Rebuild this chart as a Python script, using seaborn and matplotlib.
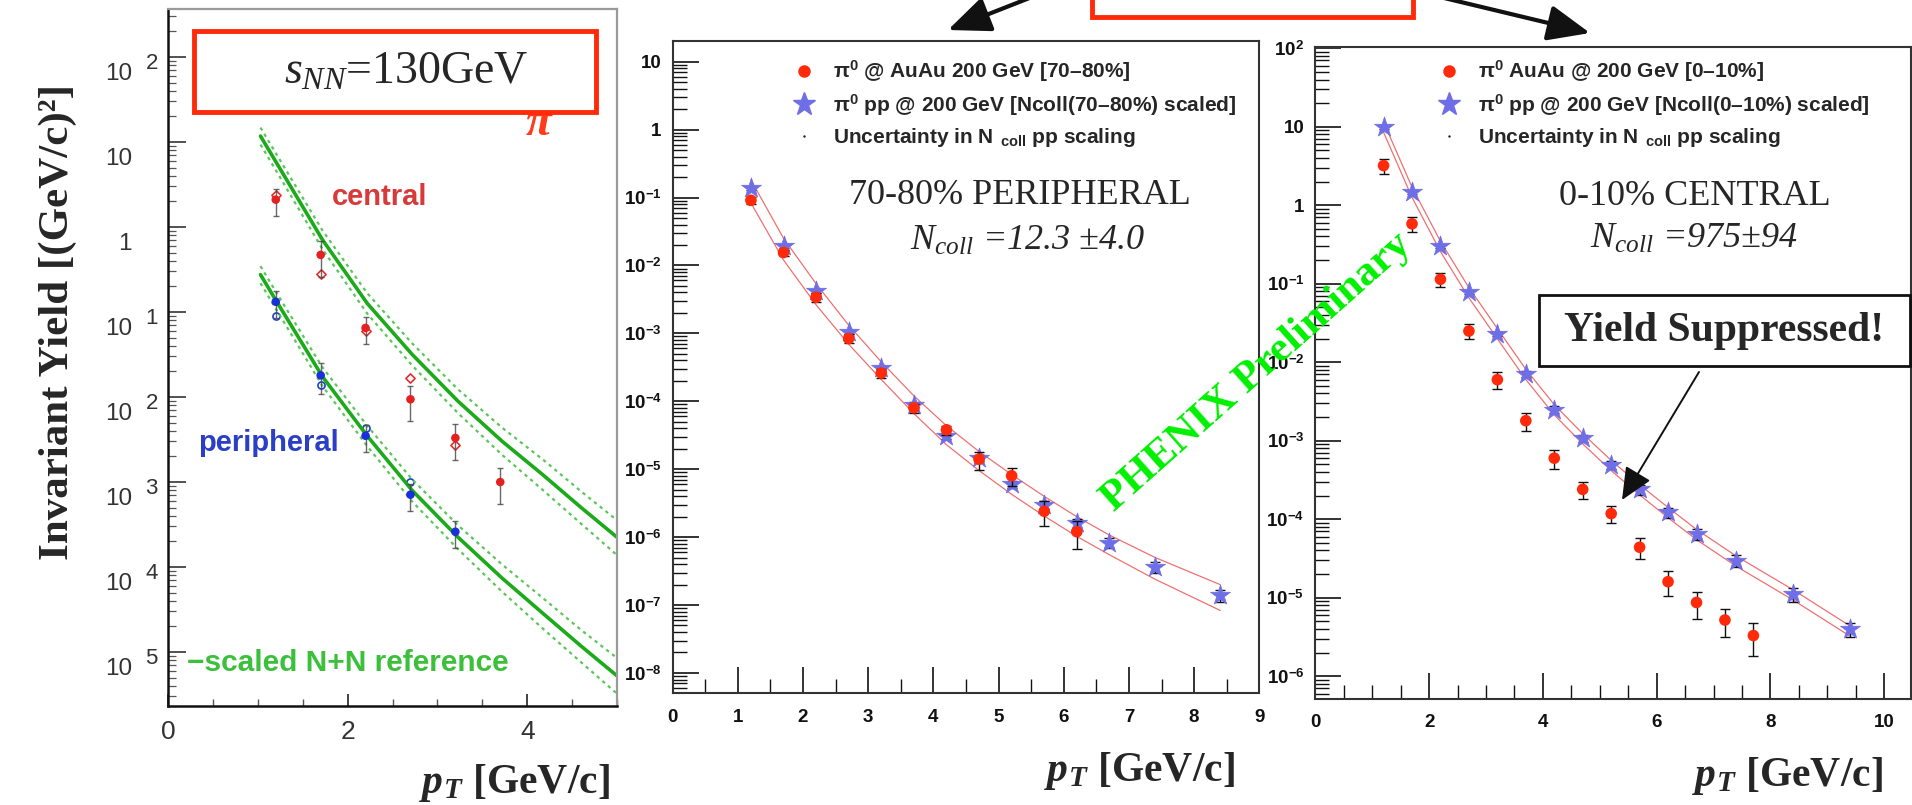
import numpy as np
import pandas as pd
import matplotlib
matplotlib.use("Agg")
import matplotlib.pyplot as plt
import matplotlib.transforms as mtransforms
from matplotlib.patches import Rectangle
from matplotlib.lines import Line2D
from matplotlib.ticker import FixedLocator, LogLocator, NullFormatter, MultipleLocator
import seaborn as sns

# ------------------------------------------------------------------ data
# Panel 1 : sqrt(s_NN)=130 GeV, central / peripheral pi0
p1_pt_central = [1.2, 1.7, 2.2, 2.7, 3.2, 3.7]
p1_central = [2.1, 0.47, 0.065, 0.0094, 0.0033, 0.0010]
p1_central_err = [0.35, 0.45, 0.35, 0.45, 0.45, 0.45]
p1_pt_central_open = [1.2, 1.7, 2.2, 2.7, 3.2]
p1_central_open = [2.4, 0.28, 0.060, 0.0166, 0.0027]
p1_pt_periph = [1.2, 1.7, 2.2, 2.7, 3.2]
p1_periph = [0.132, 0.018, 0.0035, 0.00071, 0.00026]
p1_periph_err = [0.35, 0.40, 0.35, 0.35, 0.35]
p1_pt_periph_open = [1.2, 1.7, 2.2, 2.7]
p1_periph_open = [0.089, 0.014, 0.0043, 0.0010]
# scaled N+N reference curves (log10 values)
ref_pt = [1.03, 1.2, 1.72, 2.22, 2.72, 3.23, 3.72, 4.18, 4.6, 5.0]
ref_central_log = [1.07, 0.77, -0.15, -0.90, -1.50, -2.05, -2.52, -2.92, -3.30, -3.65]
ref_central_hi_log = [1.17, 0.87, -0.04, -0.78, -1.37, -1.91, -2.36, -2.74, -3.11, -3.45]
ref_central_lo_log = [0.97, 0.67, -0.26, -1.02, -1.63, -2.19, -2.68, -3.10, -3.49, -3.86]
ref_periph_log = [-0.56, -0.86, -1.76, -2.46, -3.10, -3.65, -4.13, -4.55, -4.93, -5.28]
ref_periph_hi_log = [-0.46, -0.76, -1.65, -2.34, -2.97, -3.51, -3.97, -4.37, -4.74, -5.07]
ref_periph_lo_log = [-0.66, -0.96, -1.87, -2.58, -3.23, -3.79, -4.29, -4.73, -5.12, -5.49]
p1_ytick_exp = [-5, -4, -3, -2, -1, 0, 1, 2]
p1_ytick_base = ["10", "10", "10", "10", "10", "1", "10", "10"]
p1_ytick_sup = ["5", "4", "3", "2", "1", "", "", "2"]
p1_xticks = [0, 2, 4]

# Panel 2 : 70-80% peripheral, 200 GeV
p2_pt_auau = [1.2, 1.7, 2.2, 2.7, 3.2, 3.7, 4.2, 4.7, 5.2, 5.7, 6.2]
p2_auau = [0.091, 0.0155, 0.0034, 8.4e-4, 2.6e-4, 8.0e-5, 3.8e-5, 1.4e-5, 8.0e-6, 2.4e-6, 1.2e-6]
p2_auau_err = [0.12, 0.10, 0.15, 0.15, 0.15, 0.15, 0.15, 0.30, 0.30, 0.40, 0.45]
p2_pt_pp = [1.2, 1.7, 2.2, 2.7, 3.2, 3.7, 4.2, 4.7, 5.2, 5.7, 6.2, 6.7, 7.4, 8.4]
p2_pp = [0.136, 0.019, 0.0042, 1.05e-3, 3.1e-4, 8.9e-5, 3.1e-5, 1.45e-5, 6.0e-6, 3.0e-6,
         1.6e-6, 8.3e-7, 3.6e-7, 1.4e-7]
p2_pp_err = [0.05, 0.05, 0.05, 0.06, 0.06, 0.08, 0.10, 0.10, 0.12, 0.14, 0.15, 0.16, 0.18, 0.20]
p2_band_hi_log = [-0.74, -1.60, -2.27, -2.88, -3.42, -3.92, -4.36, -4.74, -5.08, -5.40, -5.70,
                  -5.97, -6.30, -6.70]
p2_band_lo_log = [-1.08, -1.92, -2.58, -3.16, -3.68, -4.18, -4.64, -5.02, -5.37, -5.69, -5.99,
                  -6.26, -6.62, -7.08]
p2_ytick_exp = [-8, -7, -6, -5, -4, -3, -2, -1, 0, 1]
p2_ytick_labels = [r"$10^{-8}$", r"$10^{-7}$", r"$10^{-6}$", r"$10^{-5}$", r"$10^{-4}$",
                   r"$10^{-3}$", r"$10^{-2}$", r"$10^{-1}$", "1", "10"]
p2_xticks = [0, 1, 2, 3, 4, 5, 6, 7, 8, 9]

# Panel 3 : 0-10% central, 200 GeV
p3_pt_auau = [1.2, 1.7, 2.2, 2.7, 3.2, 3.7, 4.2, 4.7, 5.2, 5.7, 6.2, 6.7, 7.2, 7.7]
p3_auau = [3.2, 0.58, 0.114, 0.025, 0.0060, 0.0018, 6.0e-4, 2.4e-4, 1.18e-4, 4.4e-5, 1.6e-5,
           8.7e-6, 5.2e-6, 3.3e-6]
p3_auau_err = [0.22, 0.22, 0.20, 0.22, 0.25, 0.25, 0.28, 0.25, 0.25, 0.30, 0.35, 0.38, 0.40, 0.45]
p3_pt_pp = [1.2, 1.7, 2.2, 2.7, 3.2, 3.7, 4.2, 4.7, 5.2, 5.7, 6.2, 6.7, 7.4, 8.4, 9.4]
p3_pp = [10.0, 1.46, 0.30, 0.078, 0.023, 0.0071, 0.0025, 0.00108, 4.9e-4, 2.4e-4, 1.22e-4,
         6.5e-5, 2.97e-5, 1.1e-5, 4.0e-6]
p3_pp_err = [0.05, 0.05, 0.05, 0.06, 0.06, 0.08, 0.10, 0.10, 0.12, 0.14, 0.15, 0.16, 0.18, 0.20, 0.20]
p3_band_hi_log = [1.06, 0.23, -0.46, -1.05, -1.57, -2.09, -2.54, -2.91, -3.25, -3.56, -3.85,
                  -4.13, -4.47, -4.90, -5.36]
p3_band_lo_log = [0.93, 0.10, -0.59, -1.18, -1.70, -2.22, -2.67, -3.04, -3.38, -3.69, -3.98,
                  -4.26, -4.60, -5.03, -5.49]
p3_ytick_exp = [-6, -5, -4, -3, -2, -1, 0, 1, 2]
p3_ytick_labels = [r"$10^{-6}$", r"$10^{-5}$", r"$10^{-4}$", r"$10^{-3}$", r"$10^{-2}$",
                   r"$10^{-1}$", "1", "10", r"$10^{2}$"]
p3_xticks = [0, 2, 4, 6, 8, 10]

# ------------------------------------------------------------------ style
sns.set_theme(style="ticks")
plt.rcParams.update({
    "font.family": ["Liberation Sans", "DejaVu Sans"],
    "mathtext.fontset": "custom",
    "mathtext.rm": "Liberation Sans:bold",
    "mathtext.bf": "Liberation Sans:bold",
    "mathtext.it": "Liberation Serif:italic",
    "mathtext.sf": "Liberation Sans",
    "axes.facecolor": "white",
    "figure.facecolor": "white",
    "axes.grid": False,
})
HAS_BFIT = "mathtext.bfit" in plt.rcParams
if HAS_BFIT:
    plt.rcParams["mathtext.bfit"] = "Liberation Serif:italic:bold"

RED = "#ff2a0a"
BLUE = "#6e6ee6"
BAND = "#f07070"
GREEN = "#1aaa1a"
LGREEN = "#5cc55c"

W, H = 1912, 805
fig = plt.figure(figsize=(W / 100, H / 100), dpi=100)


def px_axes(l, t, r, b, **kw):
    return fig.add_axes([l / W, 1 - b / H, (r - l) / W, (b - t) / H], **kw)


def lg(v):
    return 10.0 ** np.asarray(v)


# ------------------------------------------------------------------ panel 1
ax1 = px_axes(168, 9, 617, 706)
ax1.set_yscale("log")
ref_df = pd.DataFrame({"pt": ref_pt})
for arr, col, lw, ls in [
    (ref_central_hi_log, LGREEN, 1.6, (0, (1.5, 1.8))),
    (ref_central_lo_log, LGREEN, 1.6, (0, (1.5, 1.8))),
    (ref_periph_hi_log, LGREEN, 1.6, (0, (1.5, 1.8))),
    (ref_periph_lo_log, LGREEN, 1.6, (0, (1.5, 1.8))),
    (ref_central_log, GREEN, 2.6, "-"),
    (ref_periph_log, GREEN, 2.6, "-"),
]:
    sns.lineplot(x=ref_df["pt"], y=lg(arr), ax=ax1, color=col, lw=lw, linestyle=ls,
                 sort=False, estimator=None, legend=False)

ax1.errorbar(p1_pt_central, p1_central, yerr=np.array(p1_central) * np.array(p1_central_err),
             fmt="none", ecolor="#444444", elinewidth=1.0, capsize=2.5, alpha=0.8)
ax1.errorbar(p1_pt_periph, p1_periph, yerr=np.array(p1_periph) * np.array(p1_periph_err),
             fmt="none", ecolor="#444444", elinewidth=1.0, capsize=2.5, alpha=0.8)
sns.scatterplot(x=p1_pt_central_open, y=p1_central_open, ax=ax1, marker="D", s=22,
                facecolor="white", edgecolor="#e03030", linewidth=1.2, legend=False)
sns.scatterplot(x=p1_pt_periph_open, y=p1_periph_open, ax=ax1, marker="o", s=26,
                facecolor="white", edgecolor="#2040d0", linewidth=1.2, legend=False)
sns.scatterplot(x=p1_pt_central, y=p1_central, ax=ax1, marker="o", s=38,
                color="#e42020", edgecolor="none", legend=False, zorder=5)
sns.scatterplot(x=p1_pt_periph, y=p1_periph, ax=ax1, marker="o", s=38,
                color="#1a30d8", edgecolor="none", legend=False, zorder=5)

ax1.set_xlim(0, 5.0)
ax1.set_ylim(10 ** -5.635, 10 ** 2.565)
ax1.set_xlabel("")
ax1.set_ylabel("")
ax1.yaxis.set_major_locator(FixedLocator([10.0 ** k for k in p1_ytick_exp]))
ax1.yaxis.set_minor_locator(LogLocator(base=10, subs=np.arange(2, 10), numticks=100))
ax1.yaxis.set_major_formatter(NullFormatter())
ax1.yaxis.set_minor_formatter(NullFormatter())
ax1.set_xticks(p1_xticks)
ax1.set_xticklabels([str(t) for t in p1_xticks])
ax1.xaxis.set_minor_locator(MultipleLocator(0.5))
ax1.tick_params(axis="y", which="major", direction="in", length=13, width=1.2, color="#333")
ax1.tick_params(axis="y", which="minor", direction="in", length=6, width=0.9, color="#555")
ax1.tick_params(axis="x", which="major", direction="in", length=9, width=1.3, labelsize=19,
                pad=10, labelcolor="#333", color="#333")
ax1.tick_params(axis="x", which="minor", direction="in", length=5, width=1.0, color="#555")
for s in ["left", "bottom"]:
    ax1.spines[s].set_color("#111")
    ax1.spines[s].set_linewidth(1.8)
for s in ["top", "right"]:
    ax1.spines[s].set_color("#9a9a9a")
    ax1.spines[s].set_linewidth(1.6)

# manual y tick labels for panel 1 (offset like the blurred scan)
base_tr = mtransforms.blended_transform_factory(ax1.transAxes, ax1.transData)
for e, b, sup in zip(p1_ytick_exp, p1_ytick_base, p1_ytick_sup):
    t1 = base_tr + mtransforms.ScaledTranslation(-0.36, -0.17, fig.dpi_scale_trans)
    ax1.text(0, 10.0 ** e, b, transform=t1, ha="right", va="center", fontsize=17.5,
             color="#333", clip_on=False)
    if sup:
        t2 = base_tr + mtransforms.ScaledTranslation(-0.225, -0.06, fig.dpi_scale_trans)
        ax1.text(0, 10.0 ** e, sup, transform=t2, ha="left", va="center", fontsize=16,
                 color="#333", clip_on=False)


# ------------------------------------------------------------------ panels 2 & 3
def root_panel(ax, pt_pp, pp, pp_err, hi_log, lo_log, pt_aa, aa, aa_err,
               ylim_log, xlim, yexp, ylabels, xticks):
    ax.set_yscale("log")
    band_df = pd.DataFrame({"pt": pt_pp, "hi": lg(hi_log), "lo": lg(lo_log)})
    sns.lineplot(data=band_df, x="pt", y="hi", ax=ax, color=BAND, lw=0.9, sort=False,
                 estimator=None, legend=False)
    sns.lineplot(data=band_df, x="pt", y="lo", ax=ax, color=BAND, lw=0.9, sort=False,
                 estimator=None, legend=False)
    ax.errorbar(pt_pp, pp, yerr=np.array(pp) * np.array(pp_err), fmt="none", ecolor="#111",
                elinewidth=1.0, capsize=3.5, zorder=3)
    sns.scatterplot(x=pt_pp, y=pp, ax=ax, marker="*", s=230, color=BLUE, edgecolor=BLUE,
                    linewidth=0.5, legend=False, zorder=4)
    ax.errorbar(pt_aa, aa, yerr=np.array(aa) * np.array(aa_err), fmt="none", ecolor="#111",
                elinewidth=1.0, capsize=3.5, zorder=5)
    sns.scatterplot(x=pt_aa, y=aa, ax=ax, marker="o", s=70, color=RED, edgecolor="none",
                    legend=False, zorder=6)
    ax.set_xlim(*xlim)
    ax.set_ylim(10 ** ylim_log[0], 10 ** ylim_log[1])
    ax.set_xlabel("")
    ax.set_ylabel("")
    ax.yaxis.set_major_locator(FixedLocator([10.0 ** k for k in yexp]))
    ax.yaxis.set_minor_locator(LogLocator(base=10, subs=np.arange(2, 10), numticks=100))
    ax.yaxis.set_minor_formatter(NullFormatter())
    ax.set_yticklabels(ylabels)
    ax.set_xticks(xticks)
    ax.set_xticklabels([str(t) for t in xticks])
    ax.xaxis.set_minor_locator(MultipleLocator(0.5))
    ax.tick_params(which="both", direction="in", top=False, right=False, color="#111")
    ax.tick_params(axis="y", which="major", length=19, width=1.2, labelsize=13.5, pad=8)
    ax.tick_params(axis="y", which="minor", length=10, width=1.0)
    ax.tick_params(axis="x", which="major", length=19, width=1.2, labelsize=13.5, pad=11)
    ax.tick_params(axis="x", which="minor", length=10, width=1.0)
    for lab in ax.get_xticklabels() + ax.get_yticklabels():
        lab.set_fontweight("bold")
        lab.set_color("#111")
    for s in ax.spines.values():
        s.set_color("#333")
        s.set_linewidth(1.5)


ax2 = px_axes(672.7, 41.3, 1259.3, 693.3)
root_panel(ax2, p2_pt_pp, p2_pp, p2_pp_err, p2_band_hi_log, p2_band_lo_log,
           p2_pt_auau, p2_auau, p2_auau_err, (-8.30, 1.30), (0, 9),
           p2_ytick_exp, p2_ytick_labels, p2_xticks)
ax3 = px_axes(1315.3, 46.7, 1911.0, 699)
root_panel(ax3, p3_pt_pp, p3_pp, p3_pp_err, p3_band_hi_log, p3_band_lo_log,
           p3_pt_auau, p3_auau, p3_auau_err, (-6.29, 2.02), (0, 10.47),
           p3_ytick_exp, p3_ytick_labels, p3_xticks)

leg_kw = dict(frameon=False, loc="upper left", prop={"weight": "bold", "size": 15},
              handlelength=1.0, handletextpad=0.85, labelspacing=0.4, borderpad=0,
              borderaxespad=0, bbox_transform=fig.transFigure)


def handles():
    return [Line2D([], [], marker="o", ls="none", color=RED, markersize=9, markeredgewidth=0),
            Line2D([], [], marker="*", ls="none", color=BLUE, markersize=17),
            Line2D([], [], marker=".", ls="none", color="#222", markersize=1.5)]


ax2.legend(handles(), [r"π$^{0}$ @ AuAu 200 GeV [70–80%]",
                       r"π$^{0}$ pp @ 200 GeV [Ncoll(70–80%) scaled]",
                       r"Uncertainty in N$_{\ \ \mathrm{coll}}$ pp scaling"],
           bbox_to_anchor=(794 / W, 1 - 59 / H), **leg_kw)
ax3.legend(handles(), [r"π$^{0}$ AuAu @ 200 GeV [0–10%]",
                       r"π$^{0}$ pp @ 200 GeV [Ncoll(0–10%) scaled]",
                       r"Uncertainty in N$_{\ \ \mathrm{coll}}$ pp scaling"],
           bbox_to_anchor=(1439 / W, 1 - 59 / H), **leg_kw)

# ------------------------------------------------------------------ overlay (pixel coords)
ov = fig.add_axes([0, 0, 1, 1], zorder=20)
ov.set_xlim(0, W)
ov.set_ylim(H, 0)
ov.axis("off")
ov.patch.set_visible(False)

SERIF = ["Liberation Serif", "DejaVu Serif"]

# panel 1 decorations
ov.text(539, 124, "π", color="#ff3b1a", fontsize=34, family=SERIF, style="italic",
        weight="bold", ha="center", va="center", zorder=1)
ov.add_patch(Rectangle((194, 31), 402, 81, facecolor="white", edgecolor=RED, lw=3.5, zorder=2))
ov.text(406, 72, r"$s_{NN}$=130GeV", fontsize=33, family=SERIF, ha="center", va="center",
        zorder=3)
ov.text(380, 197, "central", color="#d83a3a", fontsize=21, weight="bold", ha="center",
        va="center")
ov.text(268, 443, "peripheral", color="#2a3ec8", fontsize=21, weight="bold", ha="center",
        va="center")
ov.text(187, 663, "−scaled N+N reference", color="#3cc03c", fontsize=21.5, weight="bold",
        ha="left", va="center")
ov.text(58, 322, "Invariant Yield [(GeV/c)²]", rotation=90, fontsize=31, family=SERIF,
        weight="bold", ha="center", va="center")

# p_T axis titles
pt_str = (r"$\mathbfit{p}_{\mathbfit{T}}$ [GeV/c]" if HAS_BFIT else r"$p_{T}$ [GeV/c]")
for xr, yc in [(610, 783), (1235, 771), (1883, 776)]:
    ov.text(xr, yc, pt_str, fontsize=30, family=SERIF, weight="bold", ha="right",
            va="center")

# panel 2 / 3 annotations
ov.text(1020, 195, "70-80% PERIPHERAL", fontsize=26, family=SERIF, ha="center", va="center")
ov.text(1028, 241, r"$N_{coll}$ =12.3 ±4.0", fontsize=26, family=SERIF, style="italic",
        ha="center", va="center")
ov.text(1695, 196, "0-10% CENTRAL", fontsize=26, family=SERIF, ha="center", va="center")
ov.text(1694, 239, r"$N_{coll}$ =975±94", fontsize=26, family=SERIF, style="italic",
        ha="center", va="center")

ov.add_patch(Rectangle((1539, 295), 371, 71, facecolor="white", edgecolor="#111", lw=2.0))
ov.text(1724, 331, "Yield Suppressed!", fontsize=30, family=SERIF, weight="bold",
        ha="center", va="center")
ov.annotate("", xy=(1622, 500), xytext=(1699, 372),
            arrowprops=dict(arrowstyle="-|>,head_length=1.0,head_width=0.45", lw=1.4,
                            color="#111", mutation_scale=20, shrinkA=0, shrinkB=0))

ov.text(1257, 372, "PHENIX Preliminary", fontsize=31, family=SERIF, weight="bold",
        color="#00f000", rotation=41.6, ha="center", va="center", rotation_mode="anchor")

# top decorations
ov.add_patch(Rectangle((1092, -12), 321, 29, facecolor="white", edgecolor=RED, lw=3.5))
ov.annotate("", xy=(948, 30), xytext=(1032, -3),
            arrowprops=dict(arrowstyle="-|>,head_length=1.3,head_width=0.55", lw=3,
                            color="#111", mutation_scale=20, shrinkA=0, shrinkB=0))
ov.annotate("", xy=(1590, 33), xytext=(1440, -3),
            arrowprops=dict(arrowstyle="-|>,head_length=1.3,head_width=0.55", lw=3,
                            color="#111", mutation_scale=20, shrinkA=0, shrinkB=0))

fig.savefig("out.png", dpi=100)
